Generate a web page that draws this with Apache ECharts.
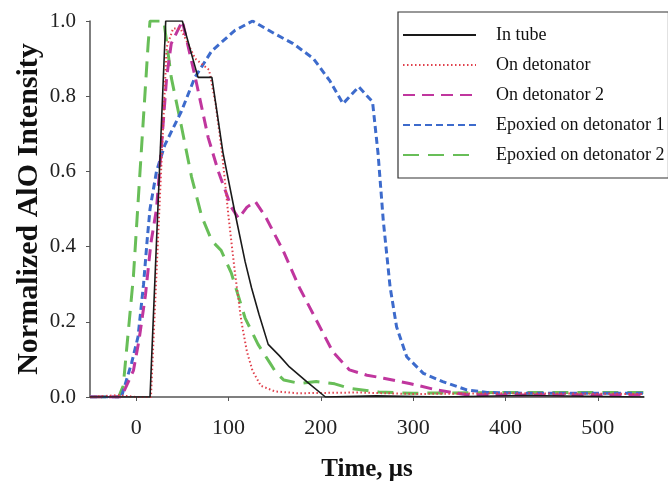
<!DOCTYPE html>
<html>
<head>
<meta charset="utf-8">
<script src="https://cdn.jsdelivr.net/npm/echarts@6/dist/echarts.min.js"></script>
<style>
  html, body { margin: 0; padding: 0; background: #fff; }
  #chart { width: 668px; height: 489px; }
</style>
</head>
<body>
<div id="chart"></div>
<script>
// Normalized AlO emission intensity versus time (µs) for each loading configuration
const seriesNames = ['In tube', 'On detonator', 'On detonator 2', 'Epoxied on detonator 1', 'Epoxied on detonator 2'];

const inTube = [[-50,0],[15,0],[32,1.0],[50,1.0],[67,0.85],[82,0.85],[94,0.65],[107,0.49],[118,0.36],[125,0.29],[133,0.22],[143,0.14],[155,0.11],[166,0.08],[185,0.04],[205,0],[260,0.003],[330,0],[420,0.004],[550,0]];

const onDetonator = [[-50,0],[-20,0.005],[0,0],[16,0],[33,0.93],[40,0.98],[48,0.98],[64,0.9],[79,0.87],[86,0.78],[93,0.65],[100,0.48],[107,0.33],[114,0.2],[120,0.12],[126,0.07],[135,0.03],[150,0.015],[175,0.01],[240,0.012],[300,0.008],[400,0.01],[550,0.008]];

const onDetonator2 = [[-50,0],[-16,0],[-3,0.07],[3,0.15],[10,0.27],[16,0.41],[22,0.5],[27.5,0.67],[33,0.85],[38,0.94],[50,1.0],[64,0.85],[78,0.69],[89,0.6],[103,0.505],[111,0.475],[120,0.505],[129,0.52],[140,0.48],[159,0.39],[177,0.29],[195,0.205],[213,0.12],[231,0.072],[250,0.058],[268,0.05],[296,0.036],[325,0.019],[358,0.006],[400,0.005],[550,0.005]];

const epoxied1 = [[-50,0],[-16,0],[-5,0.09],[2,0.16],[8,0.3],[12,0.42],[15,0.5],[22,0.6],[31,0.67],[49,0.76],[63.6,0.85],[81.7,0.92],[107,0.975],[126,1.0],[150,0.966],[170,0.94],[192,0.9],[210,0.84],[224,0.78],[241,0.825],[256,0.785],[262,0.647],[267.6,0.47],[275,0.293],[282,0.187],[293,0.107],[311,0.063],[332,0.041],[358,0.019],[380,0.012],[420,0.01],[480,0.01],[550,0.01]];

const epoxied2 = [[-50,0],[-19,0],[-14,0.03],[-3,0.32],[6,0.67],[13,0.94],[15,1.0],[30,1.0],[38,0.85],[49,0.72],[60,0.585],[71,0.48],[82,0.415],[92,0.39],[103,0.33],[118,0.21],[132,0.14],[145,0.09],[152,0.063],[160,0.045],[177,0.036],[195,0.041],[215,0.035],[231,0.023],[263,0.013],[300,0.01],[400,0.012],[550,0.012]];

const xTicks = [0, 100, 200, 300, 400, 500];

const serif = "'Liberation Serif', 'Times New Roman', serif";

const styles = [
  { color: '#1a1a1a', width: 1.6, type: 'solid' },
  { color: '#e0404c', width: 2, type: [1.5, 2.5] },
  { color: '#c0369e', width: 3, type: [12, 7] },
  { color: '#3d6bcc', width: 3, type: [7, 4] },
  { color: '#68be58', width: 3, type: [16, 9] }
];
const datasets = [inTube, onDetonator, onDetonator2, epoxied1, epoxied2];

const chart = echarts.init(document.getElementById('chart'), null, { renderer: 'canvas' });

chart.setOption({
  animation: false,
  backgroundColor: '#fff',
  grid: { left: 90, right: 24, top: 21, bottom: 92, containLabel: false },
  legend: {
    orient: 'vertical',
    left: 398,
    top: 12,
    padding: [14, 4, 14, 4],
    itemWidth: 73,
    itemHeight: 14,
    itemGap: 12,
    borderColor: '#333',
    borderWidth: 1.2,
    backgroundColor: '#fff',
    itemStyle: { opacity: 0 },
    textStyle: { fontFamily: serif, fontSize: 18, color: '#111', padding: [0, 0, 0, 15] },
    data: seriesNames
  },
  xAxis: {
    type: 'value',
    min: -50,
    max: 550,
    interval: 50,
    name: 'Time, μs',
    nameLocation: 'middle',
    nameGap: 60,
    nameMoveOverlap: false,
    nameTextStyle: { fontFamily: serif, fontSize: 25, fontWeight: 'bold', color: '#111' },
    axisLine: { onZero: false, lineStyle: { color: '#555', width: 1.5 } },
    axisTick: { show: true, length: 4, lineStyle: { color: '#555' }, customValues: xTicks },
    axisLabel: { fontFamily: serif, fontSize: 22, color: '#222', margin: 20, customValues: xTicks },
    splitLine: { show: false }
  },
  yAxis: {
    type: 'value',
    min: 0,
    max: 1,
    interval: 0.2,
    name: 'Normalized AlO Intensity',
    nameLocation: 'middle',
    nameGap: 46,
    nameMoveOverlap: false,
    nameTextStyle: { fontFamily: serif, fontSize: 30, fontWeight: 'bold', color: '#111' },
    axisLine: { show: true, onZero: false, lineStyle: { color: '#555', width: 1.5 } },
    axisTick: { show: true, length: 4, lineStyle: { color: '#555' } },
    axisLabel: { fontFamily: serif, fontSize: 21, color: '#222', margin: 14, formatter: v => v.toFixed(1) },
    splitLine: { show: false }
  },
  series: seriesNames.map((name, i) => ({
    name,
    type: 'line',
    data: datasets[i],
    symbol: 'none',
    showSymbol: false,
    lineStyle: styles[i],
    itemStyle: { color: styles[i].color },
    z: 5 - i
  }))
});
</script>
</body>
</html>
